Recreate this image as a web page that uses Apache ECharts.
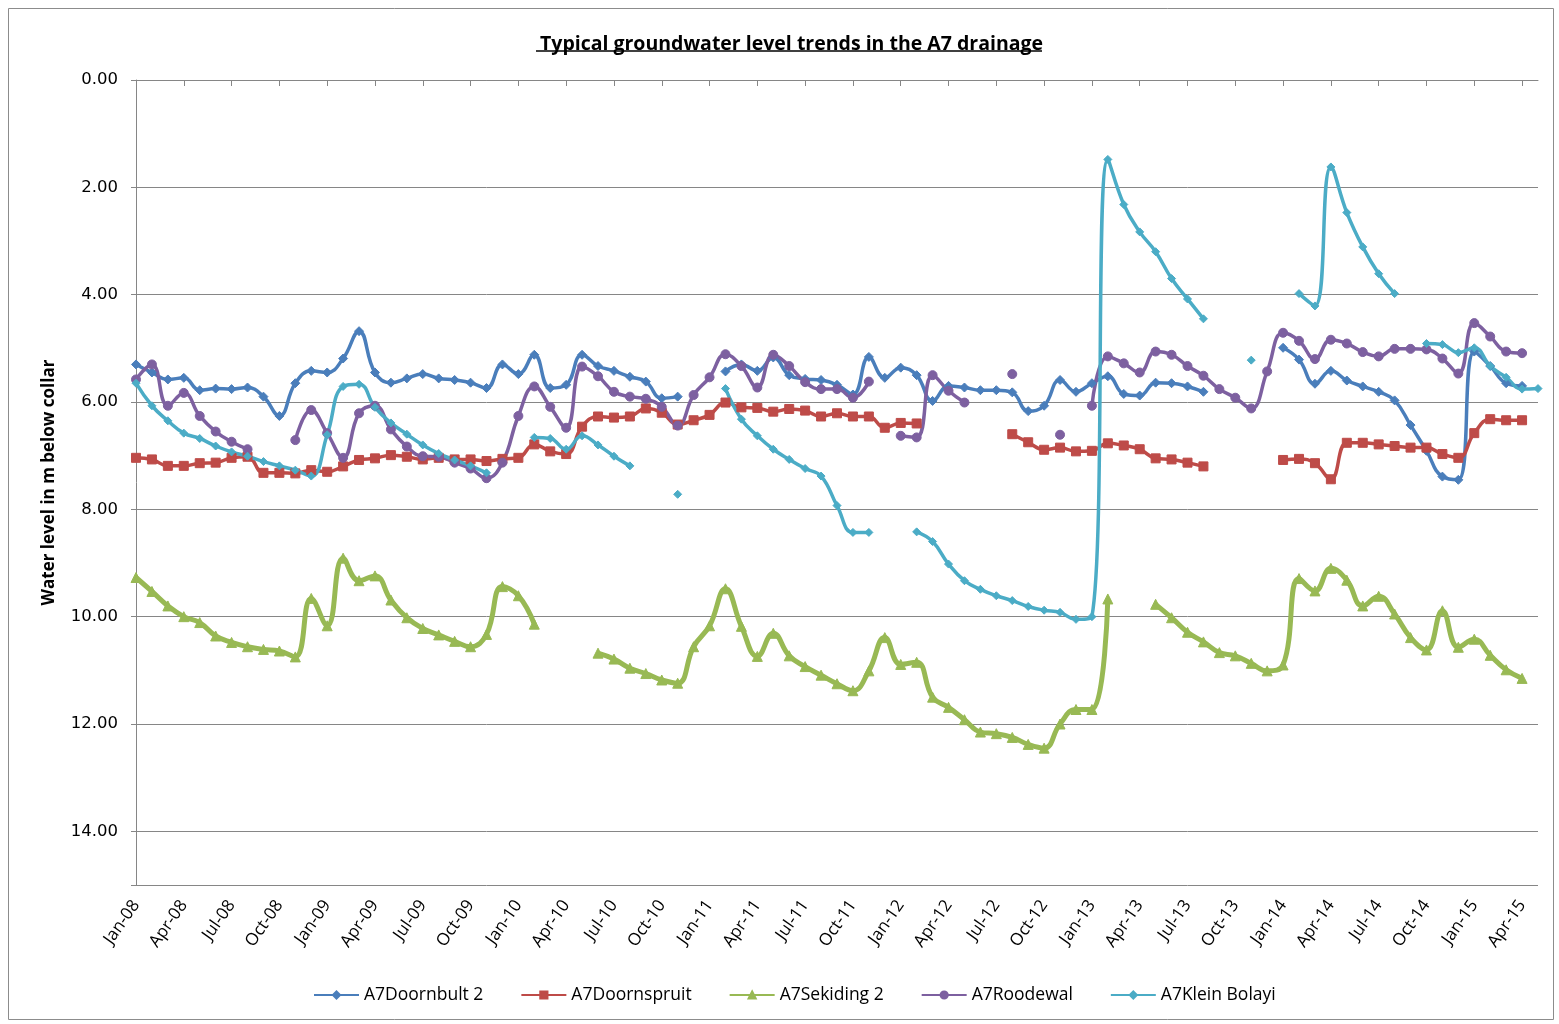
<!DOCTYPE html>
<html>
<head>
<meta charset="utf-8">
<script src="https://cdn.jsdelivr.net/npm/echarts@6/dist/echarts.min.js"></script>
<style>
html, body { margin: 0; padding: 0; background: #fff; }
#main { width: 1559px; height: 1024px; }
</style>
</head>
<body>
<div id="main"></div>
<script>
var monthNames = ['Jan', 'Feb', 'Mar', 'Apr', 'May', 'Jun', 'Jul', 'Aug', 'Sep', 'Oct', 'Nov', 'Dec'];
var years = ['08', '09', '10', '11', '12', '13', '14', '15'];

// monthly readings, Jan-08 .. May-15 (null = no reading)
var doornbult = [5.30, 5.45, 5.58, 5.55, 5.78, 5.75, 5.76, 5.73, 5.90, 6.26, 5.65, 5.42,
  5.45, 5.19, 4.68, 5.45, 5.64, 5.56, 5.48, 5.56, 5.59, 5.64, 5.74, 5.30,
  5.48, 5.12, 5.74, 5.68, 5.12, 5.33, 5.42, 5.53, 5.62, 5.93, 5.90, null,
  null, 5.43, 5.30, 5.42, 5.17, 5.50, 5.57, 5.59, 5.68, 5.86, 5.16, 5.55,
  5.36, 5.50, 5.98, 5.70, 5.73, 5.78, 5.78, 5.82, 6.17, 6.07, 5.59, 5.81,
  5.65, 5.52, 5.85, 5.88, 5.64, 5.65, 5.71, 5.81, null, null, null, null,
  4.99, 5.21, 5.66, 5.42, 5.60, 5.71, 5.81, 5.97, 6.43, 6.91, 7.39, 7.45,
  5.06, 5.33, 5.65, 5.70, null];
var doornspruit = [7.04, 7.07, 7.19, 7.19, 7.14, 7.13, 7.04, 7.02, 7.32, 7.32, 7.33, 7.27,
  7.30, 7.20, 7.08, 7.05, 6.99, 7.02, 7.07, 7.04, 7.07, 7.07, 7.10, 7.06,
  7.04, 6.79, 6.92, 6.97, 6.46, 6.27, 6.29, 6.27, 6.12, 6.20, 6.42, 6.34,
  6.24, 6.01, 6.10, 6.11, 6.18, 6.13, 6.16, 6.27, 6.21, 6.27, 6.27, 6.48,
  6.39, 6.40, null, null, null, null, null, 6.60, 6.75, 6.89, 6.85, 6.92,
  6.91, 6.77, 6.81, 6.88, 7.05, 7.07, 7.13, 7.20, null, null, null, null,
  7.08, 7.06, 7.14, 7.44, 6.76, 6.76, 6.79, 6.82, 6.85, 6.85, 6.97, 7.04,
  6.58, 6.32, 6.34, 6.34, null];
var sekiding = [9.27, 9.53, 9.80, 10.00, 10.11, 10.36, 10.48, 10.56, 10.61, 10.64, 10.75, 9.66,
  10.17, 8.91, 9.33, 9.24, 9.69, 10.02, 10.22, 10.34, 10.46, 10.56, 10.33, 9.44,
  9.61, 10.14, null, null, null, 10.68, 10.79, 10.96, 11.06, 11.18, 11.24, 10.56,
  10.17, 9.48, 10.18, 10.74, 10.31, 10.73, 10.93, 11.09, 11.25, 11.38, 11.01, 10.39,
  10.89, 10.85, 11.50, 11.69, 11.92, 12.15, 12.18, 12.25, 12.38, 12.45, 12.00, 11.73,
  11.73, 9.67, null, null, 9.77, 10.02, 10.29, 10.47, 10.67, 10.73, 10.87, 11.01,
  10.90, 9.29, 9.52, 9.10, 9.32, 9.80, 9.62, 9.95, 10.39, 10.62, 9.89, 10.57,
  10.42, 10.72, 10.99, 11.15, null];
var roodewal = [5.58, 5.30, 6.07, 5.83, 6.26, 6.55, 6.74, 6.88, null, null, 6.71, 6.15,
  6.58, 7.04, 6.21, 6.07, 6.51, 6.83, 7.01, 7.02, 7.13, 7.24, 7.42, 7.13,
  6.26, 5.71, 6.09, 6.48, 5.34, 5.52, 5.81, 5.90, 5.94, 6.09, 6.44, 5.87,
  5.54, 5.11, 5.33, 5.73, 5.12, 5.33, 5.63, 5.76, 5.76, 5.92, 5.62, null,
  6.63, 6.66, 5.50, 5.79, 6.01, null, null, 5.48, null, null, 6.61, null,
  6.07, 5.15, 5.28, 5.45, 5.06, 5.12, 5.33, 5.51, 5.76, 5.92, 6.12, 5.43,
  4.71, 4.86, 5.20, 4.84, 4.91, 5.07, 5.15, 5.01, 5.01, 5.02, 5.19, 5.47,
  4.53, 4.78, 5.06, 5.09, null];
var kleinBolayi = [5.65, 6.07, 6.35, 6.58, 6.68, 6.82, 6.93, 7.01, 7.11, 7.19, 7.27, 7.38,
  6.61, 5.71, 5.67, 6.10, 6.39, 6.60, 6.80, 6.96, 7.08, 7.19, 7.32, null,
  null, 6.66, 6.68, 6.88, 6.63, 6.80, 7.01, 7.19, null, null, 7.72, null,
  null, 5.75, 6.32, 6.63, 6.88, 7.07, 7.24, 7.38, 7.93, 8.43, 8.43, null,
  null, 8.42, 8.60, 9.02, 9.33, 9.49, 9.61, 9.70, 9.81, 9.88, 9.92, 10.05,
  10.00, 1.48, 2.32, 2.83, 3.20, 3.70, 4.08, 4.45, null, null, 5.22, null,
  null, 3.98, 4.21, 1.62, 2.47, 3.11, 3.61, 3.98, null, 4.91, 4.93, 5.08,
  4.99, 5.33, 5.54, 5.76, 5.75];

var months = [];
years.forEach(function (y) {
  monthNames.forEach(function (m) { months.push(m + '-' + y); });
});
months = months.slice(0, 89); // Jan-08 .. May-15

var myChart = echarts.init(document.getElementById('main'));

function line(name, data, color, symbol, size, width) {
  return {
    name: name,
    type: 'line',
    data: data,
    smooth: 0.45,
    symbol: symbol,
    symbolSize: size,
    showAllSymbol: true,
    connectNulls: false,
    lineStyle: { color: color, width: width },
    itemStyle: { color: color, borderColor: color, borderWidth: 1 },
    emphasis: { disabled: true }
  };
}

option = {
  animation: false,
  title: {
    text: 'Typical groundwater level trends in the A7 drainage',
    left: 535,
    top: 29,
    textStyle: {
      fontFamily: "'Open Sans', sans-serif",
      fontWeight: 'bold',
      fontSize: 19.5,
      color: '#000'
    }
  },
  graphic: [
    { type: 'rect', shape: { x: 8.5, y: 8.5, width: 1545, height: 1011 },
      style: { fill: null, stroke: '#8c8c8c', lineWidth: 1 }, silent: true },
    { type: 'line', shape: { x1: 536, y1: 51, x2: 1042, y2: 51 },
      style: { stroke: '#000', lineWidth: 1.5 }, silent: true }
  ],
  legend: {
    bottom: 15,
    left: 308,
    itemWidth: 45,
    itemHeight: 9,
    itemGap: 37,
    textStyle: {
      fontFamily: "'Open Sans', sans-serif",
      fontSize: 17.5,
      color: '#000'
    }
  },
  grid: { left: 136, top: 80, right: 21, bottom: 139 },
  xAxis: {
    type: 'category',
    data: months,
    boundaryGap: false,
    axisLine: { lineStyle: { color: '#868686', width: 1 } },
    axisTick: { show: true, interval: 2, length: 6, lineStyle: { color: '#868686' } },
    axisLabel: {
      interval: 2,
      rotate: 55,
      margin: 17,
      fontFamily: "'Open Sans', sans-serif",
      fontSize: 17,
      color: '#000'
    },
    splitLine: { show: false }
  },
  yAxis: {
    type: 'value',
    inverse: true,
    min: 0,
    max: 15,
    interval: 2,
    name: 'Water level in m below collar',
    nameLocation: 'middle',
    nameRotate: 90,
    nameGap: 78,
    nameTextStyle: {
      fontFamily: "'Open Sans', sans-serif",
      fontWeight: 'bold',
      fontSize: 17,
      color: '#000'
    },
    axisLine: { show: true, lineStyle: { color: '#868686', width: 1 } },
    axisTick: { show: true, length: 5, lineStyle: { color: '#868686' } },
    axisLabel: {
      margin: 18,
      fontFamily: "'DejaVu Sans', sans-serif",
      fontSize: 16.5,
      color: '#000',
      formatter: function (v) { return v > 14 ? '' : v.toFixed(2); }
    },
    splitLine: { show: true, lineStyle: { color: '#868686', width: 1 } }
  },
  series: [
    line('A7Doornbult 2', doornbult, '#4a7ebb', 'diamond', 9, 3.5),
    line('A7Doornspruit', doornspruit, '#be4b48', 'rect', 9, 3.5),
    line('A7Sekiding 2', sekiding, '#98b954', 'triangle', 10, 5),
    line('A7Roodewal', roodewal, '#7d60a0', 'circle', 9, 3.5),
    line('A7Klein Bolayi', kleinBolayi, '#4bacc6', 'diamond', 8, 3.5)
  ]
};

myChart.setOption(option);
</script>
</body>
</html>
